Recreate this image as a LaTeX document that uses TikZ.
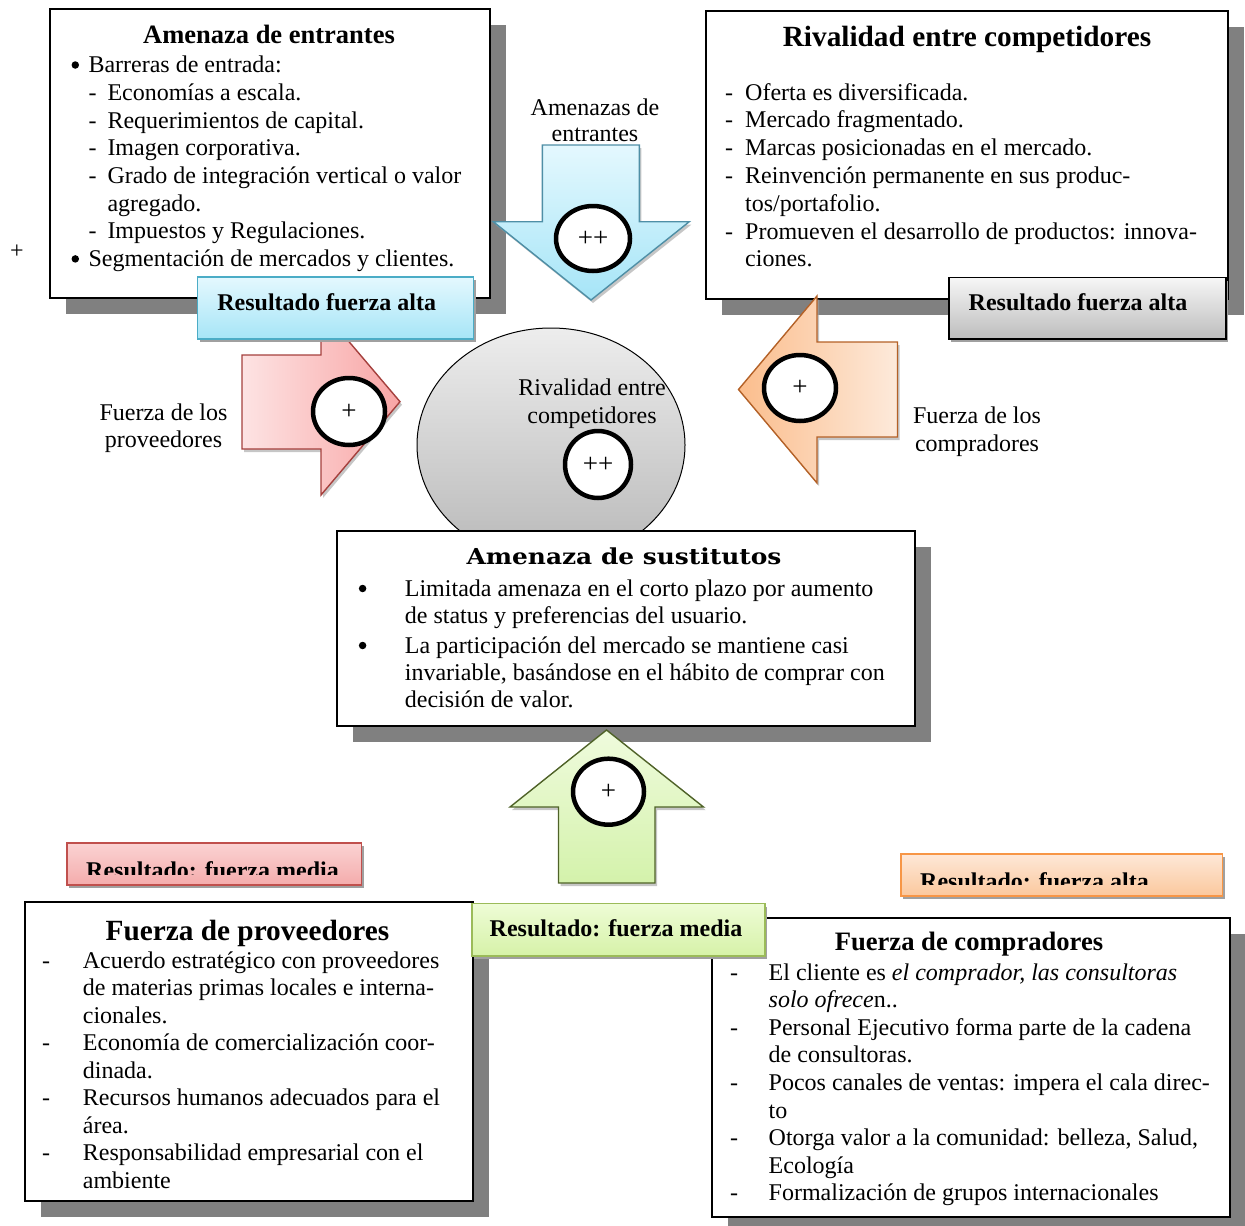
\documentclass[tikz,border=0pt]{standalone}
\usepackage{fontspec}
\setmainfont{Liberation Serif}
\newfontfamily\slabserif[FakeStretch=1.13]{DejaVu Serif}
\usetikzlibrary{shapes.geometric,shadows}

\definecolor{boxshadow}{HTML}{808080}
\definecolor{tagshadow}{HTML}{A0A0A0}
\definecolor{cyanA}{HTML}{E4F8FE}
\definecolor{cyanB}{HTML}{A6E5F7}
\definecolor{cyanline}{HTML}{4BACC6}
\definecolor{cyanarrow}{HTML}{4F8FA6}
\definecolor{greyA}{HTML}{F6F6F6}
\definecolor{greyB}{HTML}{BDBDBD}
\definecolor{pinkA}{HTML}{FDE3E3}
\definecolor{pinkB}{HTML}{F8A5A5}
\definecolor{redline}{HTML}{A5403D}
\definecolor{redtagA}{HTML}{FBD3D3}
\definecolor{redtagB}{HTML}{F4ACAC}
\definecolor{redtagline}{HTML}{C0504D}
\definecolor{orangeA}{HTML}{FBBD8C}
\definecolor{orangeB}{HTML}{FDEADB}
\definecolor{orangeline}{HTML}{B46127}
\definecolor{ortagA}{HTML}{FEE8D8}
\definecolor{ortagB}{HTML}{FBC89D}
\definecolor{ortagline}{HTML}{F79646}
\definecolor{greenA}{HTML}{EFFBDD}
\definecolor{greenB}{HTML}{D4F2AB}
\definecolor{greenline}{HTML}{4F6228}
\definecolor{grtagA}{HTML}{EEFCD6}
\definecolor{grtagB}{HTML}{D6F2A8}
\definecolor{grtagline}{HTML}{9BBB59}
\definecolor{discA}{HTML}{EDEDED}
\definecolor{discB}{HTML}{B8B8B8}

\begin{document}
\begin{tikzpicture}[x=1pt,y=-1pt,
  bigbox/.style={draw=black, line width=2pt, fill=white, anchor=north west,
    inner sep=0pt, drop shadow={shadow xshift=16pt, shadow yshift=-16pt, opacity=1, fill=boxshadow}},
  tagbox/.style={line width=1.6pt, anchor=north west, inner sep=0pt,
    drop shadow={shadow xshift=2pt, shadow yshift=-3pt, opacity=1, fill=tagshadow}},
  arrowshape/.style={line width=1.4pt, line join=miter,
    drop shadow={shadow xshift=2pt, shadow yshift=-3pt, opacity=0.6, fill=tagshadow}},
  badge/.style={ellipse, draw=black, line width=4.5pt, fill=white, inner sep=0pt,
    font=\fontsize{27}{27}\selectfont},
  dot/.style={circle, fill=black, inner sep=0pt, minimum size=7.5pt},
  body/.style={inner sep=0pt, anchor=base west, font=\fontsize{24}{28}\selectfont},
  plain/.style={inner sep=0pt, anchor=base, font=\fontsize{24}{28}\selectfont},
  tagtext/.style={inner sep=0pt, anchor=base, font=\fontsize{24}{28}\selectfont\bfseries},
  heading/.style={inner sep=0pt, anchor=base, font=\fontsize{#1}{#1}\selectfont\bfseries},
]
\useasboundingbox (0,0) rectangle (1245,1226);

% ---------- big text boxes ----------
\node[bigbox, minimum width=440.3pt, minimum height=288.4pt] (entbox) at (49,8.3) {};
\node[bigbox, minimum width=522pt, minimum height=288pt] (rivbox) at (705,10) {};

% central disc
\node[ellipse, draw=black, line width=1pt, top color=discA, bottom color=discB,
  minimum width=268pt, minimum height=234pt, inner sep=0pt] (disc) at (551,445) {};

\node[bigbox, minimum width=578pt, minimum height=195pt] (susbox) at (336,530) {};
\node[bigbox, minimum width=447.7pt, minimum height=299pt] (provbox) at (24,901) {};
\node[bigbox, minimum width=518pt, minimum height=299pt] (compbox) at (711,917) {};

% ---------- Amenaza de entrantes ----------
\node[heading=26.5] (enttitle) at (269,43.3) {Amenaza de entrantes};
\node[dot] (entd1) at (75.3,65) {};
\node[dot] (entd2) at (75.3,258.9) {};
\foreach \y/\m/\x/\t [count=\i] in {
  72.7//88.3/{Barreras de entrada:},
  100.4/-/107.3/{Economías a escala.},
  128.1/-/107.3/{Requerimientos de capital.},
  155.8/-/107.3/{Imagen corporativa.},
  183.5/-/107.3/{Grado de integración vertical o valor},
  211.2//107.3/{agregado.},
  238.9/-/107.3/{Impuestos y Regulaciones.},
  266.6//88.3/{Segmentación de mercados y clientes.}}{
  \node[body] (entm\i) at ({\x-19},\y) {\m};
  \node[body] (entl\i) at (\x,\y) {\t};
}

% ---------- Rivalidad entre competidores ----------
\node[heading=29.3] (rivtitle) at (967,46.7) {Rivalidad entre competidores};
\foreach \y/\m/\t [count=\i] in {
  100/-/{Oferta es diversificada.},
  127.8/-/{Mercado fragmentado.},
  155.6/-/{Marcas posicionadas en el mercado.},
  183.4/-/{Reinvención permanente en sus produc-},
  211.2//{tos/portafolio.},
  239/-/{Promueven el desarrollo de productos: innova-},
  266.8//{ciones.}}{
  \node[body] (rivm\i) at (725,\y) {\m};
  \node[body] (rivl\i) at (745,\y) {\t};
}

% ---------- Amenaza de sustitutos ----------
\node[inner sep=0pt, anchor=base, font=\slabserif\fontsize{22}{22}\selectfont\bfseries]
  (sustitle) at (624,564.5) {Amenaza de sustitutos};
\node[dot] (susd1) at (362.6,588.5) {};
\node[dot] (susd2) at (362.6,645.5) {};
\foreach \y/\t [count=\i] in {
  596.2/{Limitada amenaza en el corto plazo por aumento},
  623.2/{de status y preferencias del usuario.},
  653.3/{La participación del mercado se mantiene casi},
  680.3/{invariable, basándose en el hábito de comprar con},
  707.3/{decisión de valor.}}{
  \node[body] (susl\i) at (404.7,\y) {\t};
}

% ---------- Fuerza de proveedores ----------
\node[heading=29.3] (provtitle) at (247.5,940) {Fuerza de proveedores};
\foreach \y/\m/\t [count=\i] in {
  968.3/-/{Acuerdo estratégico con proveedores},
  995.8//{de materias primas locales e interna-},
  1023.3//{cionales.},
  1050.8/-/{Economía de comercialización coor-},
  1078.3//{dinada.},
  1105.8/-/{Recursos humanos adecuados para el},
  1133.3//{área.},
  1160.8/-/{Responsabilidad empresarial con el},
  1188.3//{ambiente}}{
  \node[body] (provm\i) at (42,\y) {\m};
  \node[body] (provl\i) at (82.7,\y) {\t};
}

% ---------- Fuerza de compradores ----------
\node[heading=26.6] (comptitle) at (969,950) {Fuerza de compradores};
\foreach \y/\m/\t [count=\i] in {
  980/-/{El cliente es \textit{el comprador, las consultoras}},
  1007.6//{\textit{solo ofrece}n..},
  1035.2/-/{Personal Ejecutivo forma parte de la cadena},
  1062.8//{de consultoras.},
  1090.4/-/{Pocos canales de ventas: impera el cala direc-},
  1118//{to},
  1145.6/-/{Otorga valor a la comunidad: belleza, Salud,},
  1173.2//{Ecología},
  1200.8/-/{Formalización de grupos internacionales}}{
  \node[body] (compm\i) at (730,\y) {\m};
  \node[body] (compl\i) at (768.5,\y) {\t};
}

% ---------- block arrows ----------
\path[arrowshape, draw=cyanarrow, top color=cyanA, bottom color=cyanB]
  (542.3,145) -- (639.3,145) -- (639.3,221.7) -- (689.3,221.7) -- (591,300)
  -- (493.3,221.7) -- (542.3,221.7) -- cycle;
\path[arrowshape, draw=redline, left color=pinkA, right color=pinkB]
  (242,355) -- (321,355) -- (321,308.7) -- (400,401.7) -- (321,495)
  -- (321,449) -- (242,449) -- cycle;
\path[arrowshape, draw=orangeline, left color=orangeA, right color=orangeB]
  (897.5,342) -- (817,342) -- (817,296) -- (738.5,389.5) -- (817,483)
  -- (817,437) -- (897.5,437) -- cycle;
\path[arrowshape, draw=greenline, top color=greenA, bottom color=greenB]
  (558.5,883) -- (558.5,807) -- (510,807) -- (606.5,730) -- (703.5,807)
  -- (655,807) -- (655,883) -- cycle;

% intensity badges
\node[badge, minimum width=74pt, minimum height=65pt] (bent) at (593,238.5) {++};
\node[badge, minimum width=72pt, minimum height=67pt] (bprov) at (349,411.5) {+};
\node[badge, minimum width=72pt, minimum height=66pt] (bcomp) at (800,388) {+};
\node[badge, minimum width=66pt, minimum height=67pt] (briv) at (598,464.5) {++};
\node[badge, minimum width=71pt, minimum height=66pt] (bsus) at (608.5,791.7) {+};

% free captions
\node[plain] (capent1) at (595,115.5) {Amenazas de};
\node[plain] (capent2) at (595,141.7) {entrantes};
\node[plain] (capprov1) at (163.5,420.7) {Fuerza de los};
\node[plain] (capprov2) at (163.5,447.3) {proveedores};
\node[plain] (capcomp1) at (977,423.3) {Fuerza de los};
\node[plain] (capcomp2) at (977,451) {compradores};
\node[plain] (capriv1) at (592,395) {Rivalidad entre};
\node[plain] (capriv2) at (592,423) {competidores};
\node[plain, anchor=center] (plusmark) at (17,252) {+};

% ---------- result tags ----------
\node[tagbox, draw=cyanline, top color=cyanA, bottom color=cyanB,
  minimum width=276pt, minimum height=62.3pt] (tagent) at (196.7,276) {};
\node[tagtext] (tagentt) at (326.7,310) {Resultado fuerza alta};

\node[tagbox, draw=black, top color=greyA, bottom color=greyB,
  minimum width=277pt, minimum height=61.3pt] (tagriv) at (948,276.7) {};
\node[tagtext] (tagrivt) at (1078,310) {Resultado fuerza alta};

\node[tagbox, draw=redtagline, top color=redtagA, bottom color=redtagB,
  minimum width=294.7pt, minimum height=42pt] (tagprov) at (66,842) {};
\begin{scope}
  \clip (66,842) rectangle (361,874.3);
  \node[tagtext] (tagprovt) at (212.5,878.5) {Resultado: fuerza media};
\end{scope}

\node[tagbox, draw=ortagline, top color=ortagA, bottom color=ortagB,
  minimum width=321.7pt, minimum height=42pt] (tagcomp) at (900,853) {};
\begin{scope}
  \clip (900,853) rectangle (1222,884.3);
  \node[tagtext] (tagcompt) at (1034.5,889.5) {Resultado: fuerza alta};
\end{scope}

\node[tagbox, draw=grtagline, top color=grtagA, bottom color=grtagB,
  minimum width=293pt, minimum height=52.3pt] (tagsus) at (471,902.7) {};
\node[tagtext] (tagsust) at (616,936.7) {Resultado: fuerza media};
\end{tikzpicture}
\end{document}
